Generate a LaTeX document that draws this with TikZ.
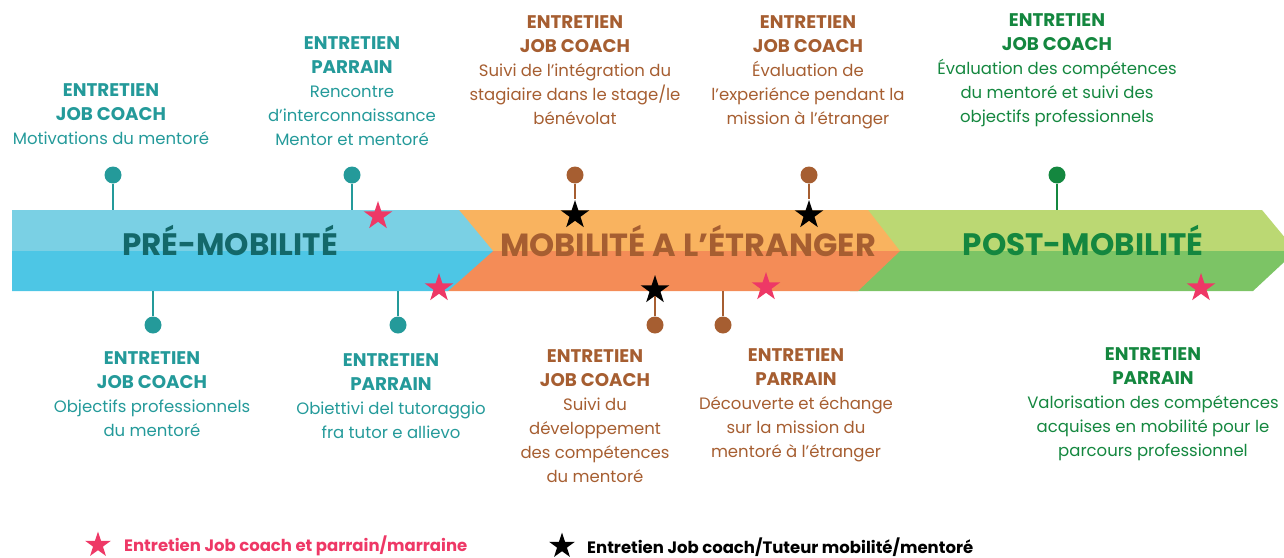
\documentclass[tikz,border=0pt]{standalone}
\usepackage{fontspec}
\setmainfont{Poppins}
\usetikzlibrary{shapes.geometric}
\definecolor{bluetop}{HTML}{7AD0E4}
\definecolor{bluebot}{HTML}{4DC6E5}
\definecolor{orgtop}{HTML}{F9B35F}
\definecolor{orgbot}{HTML}{F48C57}
\definecolor{grntop}{HTML}{BBD873}
\definecolor{grnbot}{HTML}{7CC465}
\definecolor{tealtx}{HTML}{249A9A}
\definecolor{tealdk}{HTML}{13686A}
\definecolor{browntx}{HTML}{A65E31}
\definecolor{greentx}{HTML}{14873F}
\definecolor{pinkstar}{HTML}{EE3866}
\newcommand\entete[1]{{\fontsize{18.3}{24}\selectfont\bfseries #1}}
\begin{document}
\begin{tikzpicture}[x=1pt,y=-1pt,
  lbl/.style={align=center, inner sep=0, anchor=north, font=\fontsize{16.5}{24}\selectfont},
  pin/.style={circle, inner sep=0, minimum size=17},
  pinline/.style={line width=2.6},
  starmark/.style={star, star points=5, star point ratio=2.6, inner sep=0, minimum size=30},
  phase/.style={font=\fontsize{31}{31}\selectfont\bfseries},
  legend/.style={anchor=west, inner sep=0, font=\fontsize{16.5}{20}\selectfont\bfseries}]
\useasboundingbox (0,0) rectangle (1284,557);
\clip (0,0) rectangle (1284,557);
% green segment
\fill[grntop] (850,210) -- (1262,210) -- (1296,251) -- (850,251) -- cycle;
\fill[grnbot] (850,251) -- (1296,251) -- (1253,291) -- (850,291) -- cycle;
% orange segment
\fill[orgtop] (440,210) -- (868,210) -- (900,251) -- (440,251) -- cycle;
\fill[orgbot] (440,251) -- (900,251) -- (858,291) -- (440,291) -- cycle;
% blue segment
\fill[bluetop] (12,210) -- (459,210) -- (493,251) -- (12,251) -- cycle;
\fill[bluebot] (12,251) -- (493,251) -- (448,291) -- (12,291) -- cycle;
% phase titles
\node[phase, text=tealdk] (p1) at (230,240.5) {PRÉ-MOBILITÉ};
\node[phase, text=browntx] (p2) at (688,240.5) {\fontsize{32}{32}\selectfont MOBILITÉ A L’ÉTRANGER};
\node[phase, text=greentx] (p3) at (1083,240.5) {POST-MOBILITÉ};
% band edge coordinates
\coordinate (e1) at (113,210);
\coordinate (e2) at (352,210);
\coordinate (e5) at (1057,210);
\coordinate (f1) at (153,291);
\coordinate (f2) at (398,291);
\coordinate (f4) at (723,291);
% stars
\node[starmark, fill=pinkstar] (s1) at (378,216) {};
\node[starmark, fill=pinkstar] (s2) at (439,288) {};
\node[starmark, fill=pinkstar] (s3) at (766,287) {};
\node[starmark, fill=pinkstar] (s4) at (1201,288) {};
% pins top
\node[pin, fill=tealtx] (d1) at (113,175) {};
\node[pin, fill=tealtx] (d2) at (352,175) {};
\node[pin, fill=browntx] (d3) at (575,175) {};
\node[pin, fill=browntx] (d4) at (809,175) {};
\node[pin, fill=greentx] (d5) at (1057,175) {};
% pins bottom
\node[pin, fill=tealtx] (g1) at (153,325) {};
\node[pin, fill=tealtx] (g2) at (398,325) {};
\node[pin, fill=browntx] (g3) at (655,325) {};
\node[pin, fill=browntx] (g4) at (723,325) {};
% black star nodes
\node[starmark, fill=black] (k1) at (575,215) {};
\node[starmark, fill=black] (k2) at (809,215) {};
\node[starmark, fill=black] (k3) at (655,290) {};
% pin lines
\draw[pinline, tealtx] (d1) -- (e1);
\draw[pinline, tealtx] (d2) -- (e2);
\draw[pinline, greentx] (d5) -- (e5);
\draw[pinline, tealtx] (g1) -- (f1);
\draw[pinline, tealtx] (g2) -- (f2);
\draw[pinline, browntx] (g4) -- (f4);
\draw[pinline, browntx] (d3) -- (k1);
\draw[pinline, browntx] (d4) -- (k2);
\draw[pinline, browntx] (g3) -- (k3);
% labels top
\node[lbl, text=tealtx] (t1) at (111,83) {\entete{ENTRETIEN}\\\entete{JOB COACH}\\Motivations du mentoré};
\node[lbl, text=tealtx] (t2) at (352,36) {\entete{ENTRETIEN}\\\entete{PARRAIN}\\Rencontre\\d’interconnaissance\\Mentor et mentoré};
\node[lbl, text=browntx] (t3) at (575,15) {\entete{ENTRETIEN}\\\entete{JOB COACH}\\Suivi de l’intégration du\\stagiaire dans le stage/le\\bénévolat};
\node[lbl, text=browntx] (t4) at (808,15) {\entete{ENTRETIEN}\\\entete{JOB COACH}\\Évaluation de\\l’experiénce pendant la\\mission à l’étranger};
\node[lbl, text=greentx] (t5) at (1057,13) {\entete{ENTRETIEN}\\\entete{JOB COACH}\\Évaluation des compétences\\du mentoré et suivi des\\objectifs professionnels};
% labels bottom
\node[lbl, text=tealtx] (b1) at (152,351) {\entete{ENTRETIEN}\\\entete{JOB COACH}\\Objectifs professionnels\\du mentoré};
\node[lbl, text=tealtx] (b2) at (391,353) {\entete{ENTRETIEN}\\\entete{PARRAIN}\\Obiettivi del tutoraggio\\fra tutor e allievo};
\node[lbl, text=browntx] (b3) at (595,349) {\entete{ENTRETIEN}\\\entete{JOB COACH}\\Suivi du\\développement\\des compétences\\du mentoré};
\node[lbl, text=browntx] (b4) at (796,348) {\entete{ENTRETIEN}\\\entete{PARRAIN}\\Découverte et échange\\sur la mission du\\mentoré à l’étranger};
\node[lbl, text=greentx] (b5) at (1153,347) {\entete{ENTRETIEN}\\\entete{PARRAIN}\\Valorisation des compétences\\acquises en mobilité pour le\\parcours professionnel};
% legend
\node[starmark, fill=pinkstar, minimum size=27] (ls1) at (98,545) {};
\node[legend, text=pinkstar] (lt1) at (124,546) {Entretien Job coach et parrain/marraine};
\node[starmark, fill=black, minimum size=27] (ls2) at (562,546) {};
\node[legend, text=black] (lt2) at (587,547) {Entretien Job coach/Tuteur mobilité/mentoré};
\end{tikzpicture}
\end{document}
